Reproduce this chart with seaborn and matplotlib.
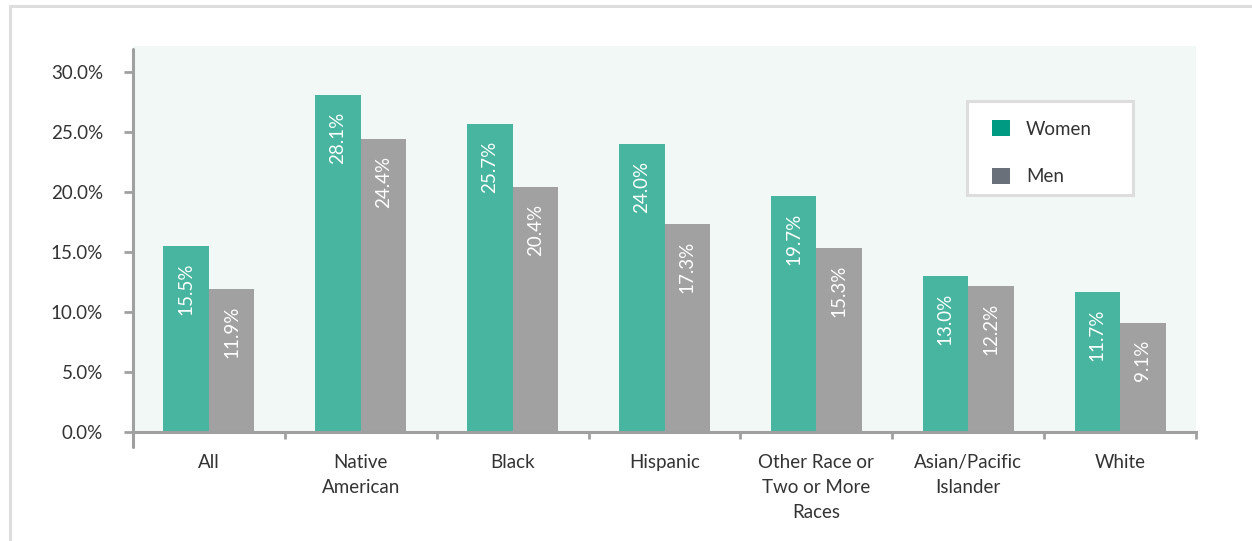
import matplotlib
matplotlib.use("Agg")
import matplotlib.pyplot as plt
import seaborn as sns
import pandas as pd
from matplotlib.patches import Patch, Rectangle
from matplotlib.lines import Line2D

categories = ["All", "Native\nAmerican", "Black", "Hispanic",
              "Other Race or\nTwo or More\nRaces", "Asian/Pacific\nIslander", "White"]
women = [15.5, 28.1, 25.7, 24.0, 19.7, 13.0, 11.7]
men = [11.9, 24.4, 20.4, 17.3, 15.3, 12.2, 9.1]
series = ["Women", "Men"]
yticks = [0, 5, 10, 15, 20, 25, 30]

bar_colors = {"Women": "#48B5A0", "Men": "#A0A1A0"}
legend_colors = {"Women": "#009A82", "Men": "#6A7079"}
text_color = "#333333"
axis_color = "#A0A0A0"

sns.set_theme(style="white")
plt.rcParams["font.family"] = ["Lato", "DejaVu Sans"]

df = pd.DataFrame({
    "Category": categories * 2,
    "Sex": ["Women"] * len(categories) + ["Men"] * len(categories),
    "Value": women + men,
})

fig = plt.figure(figsize=(12.52, 5.41), dpi=100)
ax = fig.add_axes([133 / 1252, 1 - 432 / 541, (1196 - 133) / 1252, (432 - 46) / 541])
ax.set_facecolor("#F2F8F6")

sns.barplot(data=df, x="Category", y="Value", hue="Sex", hue_order=series,
            palette=bar_colors, width=0.6, gap=0, legend=False, ax=ax,
            saturation=1, edgecolor="none", linewidth=0)

ax.set_xlim(-0.5, len(categories) - 0.5)
ax.set_ylim(0, (432 - 46) / 12)
ax.set_yticks(yticks)
ax.set_yticklabels([f"{v:.1f}%" for v in yticks], fontsize=13.5, color=text_color)
ax.set_xticks(range(len(categories)))
ax.set_xticklabels(categories, fontsize=13.5, color=text_color, linespacing=1.55, va="top")
ax.set_xticks([i + 0.5 for i in range(len(categories))], minor=True)
ax.tick_params(axis="x", which="major", length=0, pad=16)
ax.tick_params(axis="x", which="minor", length=5, width=2, color=axis_color, direction="out", bottom=True)
ax.tick_params(axis="y", length=6.5, width=2, color=axis_color, pad=15, left=True)
ax.set_xlabel("")
ax.set_ylabel("")

for s in ["top", "right"]:
    ax.spines[s].set_visible(False)
for s in ["left", "bottom"]:
    ax.spines[s].set_color(axis_color)
    ax.spines[s].set_linewidth(2.2)
ax.spines["left"].set_visible(False)
# left axis line extending slightly below the x axis
ax.add_line(Line2D([0, 0], [-0.04, 0.992], transform=ax.transAxes, color=axis_color,
                   lw=2.2, clip_on=False, zorder=5))

for cont in ax.containers:
    for bar in cont:
        h = bar.get_height()
        ax.annotate(f"{h:.1f}%", (bar.get_x() + bar.get_width() / 2, h),
                    xytext=(0, -12), textcoords="offset points",
                    rotation=90, ha="center", va="top", color="white",
                    fontsize=13.5)

# legend box
fig.patches.append(Rectangle((967 / 1252, 1 - 195 / 541), (1133 - 967) / 1252, (195 - 101) / 541,
                             transform=fig.transFigure, facecolor="white",
                             edgecolor="#DDDDDD", lw=2.2, zorder=3))
handles = [Patch(facecolor=legend_colors[s], edgecolor="none", label=s) for s in series]
leg = fig.legend(handles=handles, loc="upper left",
                 bbox_to_anchor=(992 / 1252, 1 - 120 / 541), frameon=False,
                 fontsize=13.5, labelspacing=1.6, handlelength=0.95, handleheight=0.95,
                 handletextpad=0.85, borderpad=0, borderaxespad=0)
leg.set_zorder(4)
for t in leg.get_texts():
    t.set_color(text_color)

# outer frame lines (left and top)
fig.add_artist(Line2D([10 / 1252, 10 / 1252], [0, 1 - 6 / 541], transform=fig.transFigure,
                      color="#DDDDDD", lw=2.2))
fig.add_artist(Line2D([10 / 1252, 1], [1 - 6 / 541, 1 - 6 / 541], transform=fig.transFigure,
                      color="#DDDDDD", lw=2.2))

fig.savefig("out.png", dpi=100, facecolor="white")
